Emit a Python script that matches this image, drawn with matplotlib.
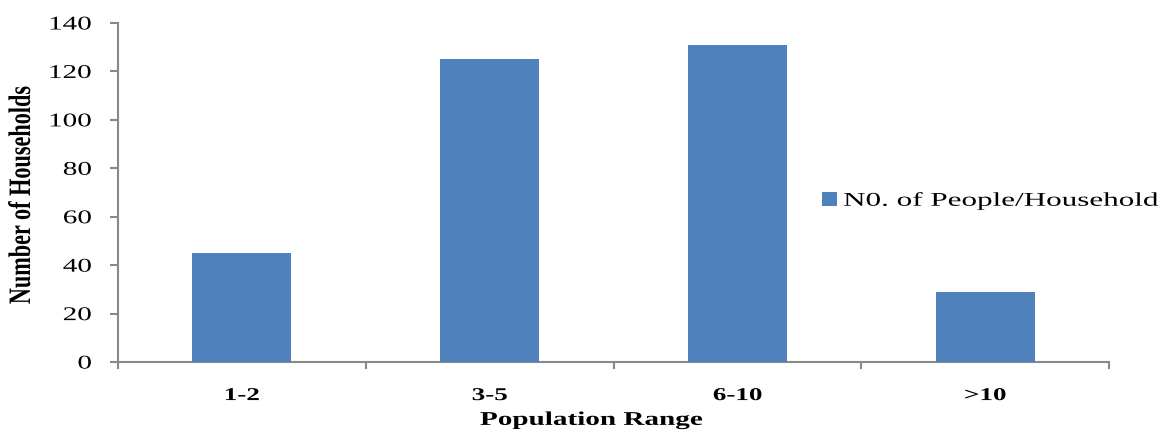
import numpy as np
import matplotlib
matplotlib.use("Agg")
import matplotlib.pyplot as plt
from matplotlib.patheffects import AbstractPathEffect
from matplotlib.transforms import Affine2D

# household counts per population range
categories = ["1-2", "3-5", "6-10", ">10"]
households = [45, 125, 131, 29]
series_name = "N0. of People/Household"
yticks = [0, 20, 40, 60, 80, 100, 120, 140]

plt.rcParams['font.family'] = ['Liberation Serif', 'DejaVu Serif']

SX = 1.5  # horizontal widening of the lettering


class StretchX(AbstractPathEffect):
    """Widen glyphs horizontally about the left, centre or right of the text."""

    def __init__(self, sx, anchor='center'):
        super().__init__()
        self.sx = sx
        self.anchor = anchor

    def draw_path(self, renderer, gc, tpath, affine, rgbFace=None):
        ext = tpath.get_extents(affine)
        if self.anchor == 'left':
            cx = ext.x0
        elif self.anchor == 'right':
            cx = ext.x1
        else:
            cx = 0.5 * (ext.x0 + ext.x1)
        tr = affine + Affine2D().translate(-cx, 0).scale(self.sx, 1).translate(cx, 0)
        renderer.draw_path(gc, tpath, tr, rgbFace)


fig = plt.figure(figsize=(11.65, 4.30), dpi=100)
ax = fig.add_axes([0.1013, 0.158, 0.8507, 0.7885])

x = np.arange(len(categories))
ax.bar(x, households, width=0.4, color='#4F81BD', label=series_name, zorder=3)

ax.set_xlim(-0.5, len(categories) - 0.5)
ax.set_ylim(0, 140)
ax.set_yticks(yticks)
ax.set_yticklabels([str(v) for v in yticks], fontsize=14)

# category labels centred, tick marks on the boundaries
ax.set_xticks(x)
ax.set_xticklabels(categories, fontsize=13, fontweight='bold')
ax.tick_params(axis='x', which='major', length=0, pad=18)
ax.set_xticks(np.arange(-0.5, len(categories)), minor=True)
ax.tick_params(axis='x', which='minor', length=5, color='#898989', width=1.5, direction='out')
ax.tick_params(axis='y', length=6, color='#898989', width=1.5, pad=13)

for side in ['top', 'right']:
    ax.spines[side].set_visible(False)
for side in ['left', 'bottom']:
    ax.spines[side].set_color('#898989')
    ax.spines[side].set_linewidth(1.5)

ax.set_ylabel("Number of Households", fontsize=16, fontweight='bold')
ax.yaxis.set_label_coords(-0.097, 0.493)
ax.yaxis.label.set_verticalalignment('center')
ax.set_xlabel("Population Range", fontsize=14, fontweight='bold')
ax.xaxis.set_label_coords(0.478, -0.172)
ax.xaxis.label.set_verticalalignment('center')

for lab in ax.get_yticklabels():
    lab.set_path_effects([StretchX(SX, 'right')])
for lab in ax.get_xticklabels():
    lab.set_path_effects([StretchX(SX)])
ax.yaxis.label.set_path_effects([StretchX(1.4)])
ax.xaxis.label.set_path_effects([StretchX(SX)])

leg = fig.legend(loc='center left', bbox_to_anchor=(0.7056, 0.533), frameon=False,
                 fontsize=14, handlelength=0.75, handleheight=0.75, handletextpad=0.35,
                 borderpad=0, borderaxespad=0)
for t in leg.get_texts():
    t.set_path_effects([StretchX(1.6, 'left')])

fig.savefig("out.png", dpi=100)
